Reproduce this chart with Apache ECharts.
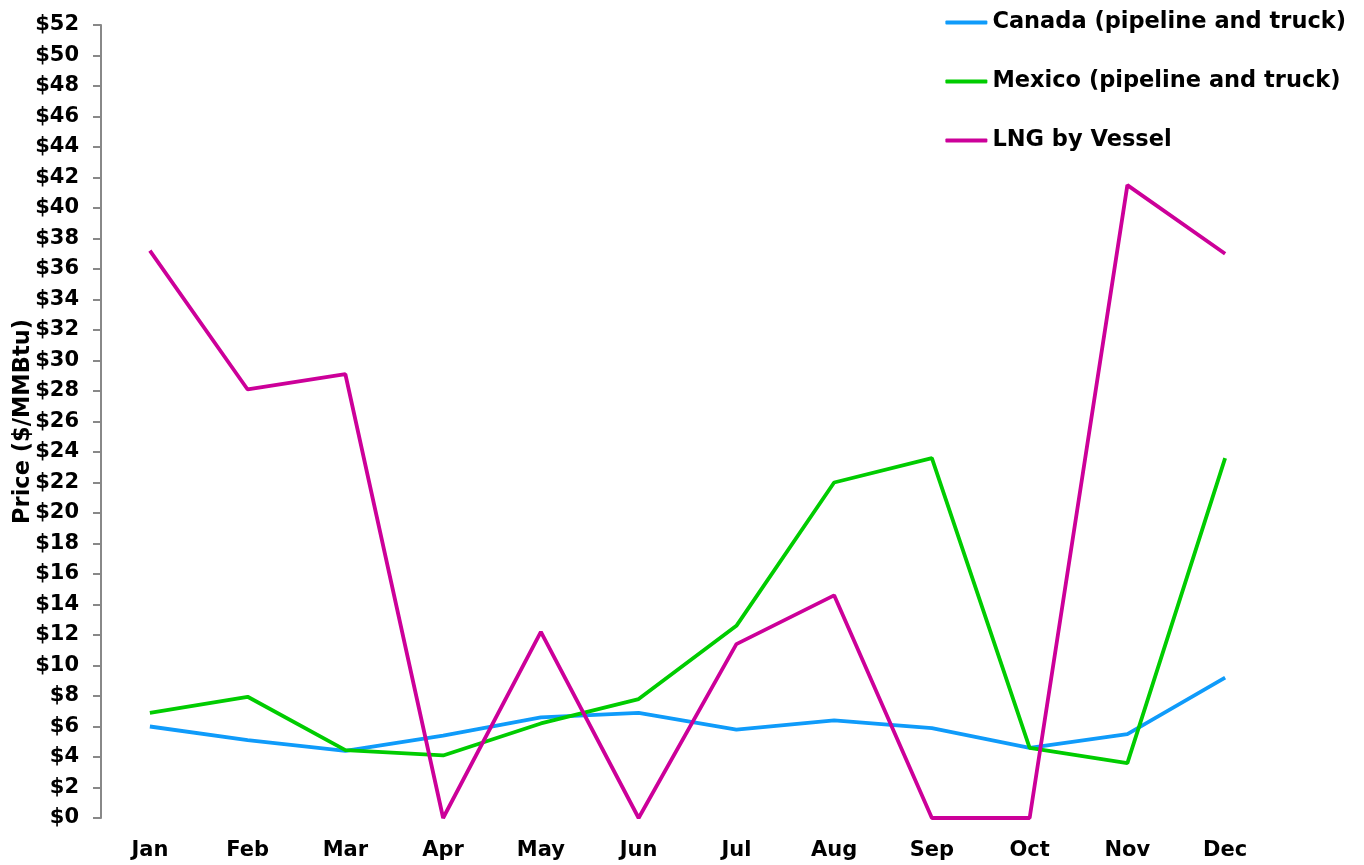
<!DOCTYPE html>
<html>
<head>
<meta charset="utf-8">
<script src="https://cdn.jsdelivr.net/npm/echarts@6/dist/echarts.min.js"></script>
<style>
  html, body { margin: 0; padding: 0; background: #fff; }
  #chart { width: 1364px; height: 865px; }
</style>
</head>
<body>
<div id="chart"></div>
<script>
// 月份
const months = ['Jan', 'Feb', 'Mar', 'Apr', 'May', 'Jun', 'Jul', 'Aug', 'Sep', 'Oct', 'Nov', 'Dec'];
// 各来源价格 ($/MMBtu)
const canada = [6.0, 5.1, 4.4, 5.4, 6.6, 6.9, 5.8, 6.4, 5.9, 4.6, 5.5, 9.2];
const mexico = [6.9, 7.95, 4.45, 4.1, 6.2, 7.8, 12.6, 22.0, 23.6, 4.6, 3.6, 23.6];
const lng = [37.2, 28.1, 29.1, 0, 12.2, 0, 11.4, 14.6, 0, 0, 41.5, 37.0];
const seriesNames = ['Canada (pipeline and truck)', 'Mexico (pipeline and truck)', 'LNG by Vessel'];

const font = '"DejaVu Sans", sans-serif';
const chart = echarts.init(document.getElementById('chart'));

const makeLine = (name, data, color) => ({
  name: name,
  type: 'line',
  data: data,
  symbol: 'none',
  smooth: false,
  lineStyle: { color: color, width: 3.8 },
  itemStyle: { color: color },
  emphasis: { disabled: true }
});

chart.setOption({
  animation: false,
  grid: { left: 101, right: 90, top: 25, bottom: 47, outerBoundsMode: 'none', containLabel: false },
  legend: {
    orient: 'vertical',
    right: 13,
    top: 6,
    icon: 'roundRect',
    itemWidth: 42,
    itemHeight: 4,
    itemGap: 36,
    textStyle: { color: '#000', fontSize: 22.5, fontWeight: 'bold', fontFamily: font },
    data: seriesNames
  },
  xAxis: {
    type: 'category',
    data: months,
    boundaryGap: true,
    axisLine: { show: false },
    axisTick: { show: false },
    axisLabel: { color: '#000', fontSize: 21, fontWeight: 'bold', fontFamily: font, margin: 22 }
  },
  yAxis: {
    type: 'value',
    min: 0,
    max: 52,
    interval: 2,
    name: 'Price ($/MMBtu)',
    nameLocation: 'middle',
    nameGap: 66,
    nameMoveOverlap: false,
    nameTextStyle: { color: '#000', fontSize: 22.5, fontWeight: 'bold', fontFamily: font },
    axisLine: { show: true, lineStyle: { color: '#888', width: 2 } },
    axisTick: { show: true, length: 8, lineStyle: { color: '#888', width: 2 } },
    splitLine: { show: false },
    axisLabel: {
      color: '#000', fontSize: 21, fontWeight: 'bold', fontFamily: font, margin: 22,
      formatter: v => '$' + v
    }
  },
  series: [
    makeLine(seriesNames[0], canada, '#0f9bfa'),
    makeLine(seriesNames[1], mexico, '#00cc00'),
    makeLine(seriesNames[2], lng, '#cc0099')
  ]
});
</script>
</body>
</html>
